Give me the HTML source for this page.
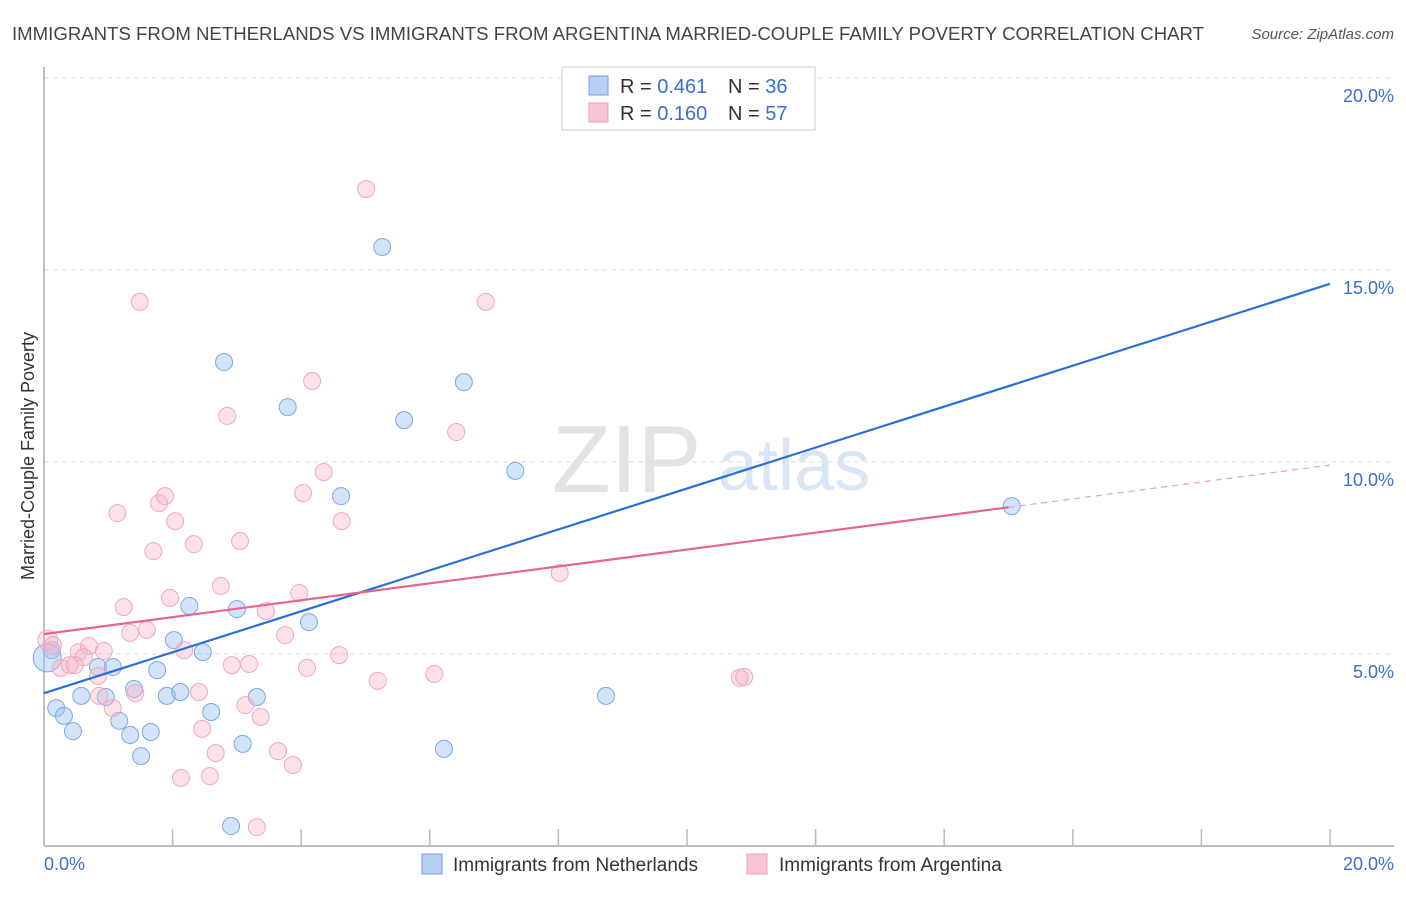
<!DOCTYPE html>
<html><head><meta charset="utf-8"><style>
body{margin:0;background:#fff;font-family:"Liberation Sans",sans-serif}
svg text{font-family:"Liberation Sans",sans-serif}
</style></head><body>
<svg id="chart" width="1406" height="892" xmlns="http://www.w3.org/2000/svg">
<text x="12" y="40" font-size="18.6" fill="#444" textLength="1192">IMMIGRANTS FROM NETHERLANDS VS IMMIGRANTS FROM ARGENTINA MARRIED-COUPLE FAMILY POVERTY CORRELATION CHART</text>
<text x="1394" y="39" font-size="15" fill="#555" font-style="italic" text-anchor="end">Source: ZipAtlas.com</text>
<text x="552" y="492" font-size="96" fill="#ddd" font-family="Liberation Serif" opacity="0.8">ZIP</text>
<text x="718" y="490" font-size="72" fill="#cfe0f3" opacity="0.8">atlas</text>
<g id="grid"></g>
<g id="axes"></g>
<g id="marks"></g>
<text transform="translate(34,456) rotate(-90)" font-size="18" fill="#333" text-anchor="middle">Married-Couple Family Poverty</text>
<text x="44" y="870" font-size="18" fill="#3a6fd0">0.0%</text>
<text x="1394" y="870" font-size="18" fill="#3a6fd0" text-anchor="end">20.0%</text>
<g>
<rect x="562" y="67" width="253" height="63" fill="#fff" stroke="#ccc"/>
<rect x="589" y="76" width="19" height="19" fill="#b7d0f3" stroke="#6fa0e0"/>
<rect x="589" y="103" width="19" height="19" fill="#f8c4d3" stroke="#f0a0b8"/>
<text x="620" y="93" font-size="20" fill="#333">R = <tspan fill="#3a6fd0">0.461</tspan></text>
<text x="728" y="93" font-size="20" fill="#333">N = <tspan fill="#3a6fd0">36</tspan></text>
<text x="620" y="120" font-size="20" fill="#333">R = <tspan fill="#3a6fd0">0.160</tspan></text>
<text x="728" y="120" font-size="20" fill="#333">N = <tspan fill="#3a6fd0">57</tspan></text>
</g>
<g>
<rect x="422" y="854" width="20" height="20" fill="#b7d0f3" stroke="#6fa0e0"/>
<text x="453" y="871" font-size="19" fill="#333">Immigrants from Netherlands</text>
<rect x="747" y="854" width="20" height="20" fill="#f8c4d3" stroke="#f0a0b8"/>
<text x="779" y="871" font-size="19" fill="#333">Immigrants from Argentina</text>
</g>
</svg>
<script>
const yTicks=[5,10,15,20];
const yTickLabels=["5.0%","10.0%","15.0%","20.0%"];
const xTicks=[0,2,4,6,8,10,12,14,16,18,20];
const blueX=[0.12,0.19,0.31,0.45,0.58,0.84,0.96,1.07,1.17,1.34,1.40,1.51,1.66,1.76,1.91,2.02,2.12,2.26,2.47,2.60,2.80,2.91,3.00,3.09,3.31,3.79,4.12,4.62,5.26,5.60,6.22,6.53,7.33,8.74,15.05,0.05];
const blueY=[5.10,3.59,3.39,2.99,3.91,4.66,3.88,4.66,3.26,2.89,4.09,2.34,2.97,4.58,3.91,5.36,4.01,6.25,5.05,3.49,12.60,0.52,6.17,2.66,3.88,11.43,5.83,9.11,15.60,11.09,2.53,12.08,9.77,3.91,8.85,4.9];
const pinkX=[0.06,0.14,0.26,0.40,0.54,0.70,0.84,0.93,0.86,1.07,1.14,1.24,1.34,1.42,1.49,1.60,1.70,1.79,1.88,1.96,2.04,2.18,2.33,2.41,2.46,2.58,2.67,2.75,2.85,2.92,3.05,3.13,3.19,3.37,3.45,3.64,3.75,3.87,3.97,4.03,4.09,4.17,4.35,4.59,4.63,5.01,5.19,6.07,6.41,6.87,8.02,10.82,10.89,2.13,3.31,0.62,0.48];
const pinkY=[5.36,5.23,4.64,4.71,5.05,5.21,4.43,5.08,3.91,3.59,8.67,6.22,5.55,3.98,14.17,5.63,7.68,8.93,9.11,6.46,8.46,5.10,7.86,4.01,3.05,1.82,2.42,6.77,11.20,4.71,7.94,3.67,4.74,3.36,6.12,2.47,5.49,2.11,6.59,9.19,4.64,12.11,9.74,4.97,8.46,17.11,4.30,4.48,10.78,14.17,7.11,4.38,4.40,1.77,0.49,4.92,4.71];
const blueTrend=[3.98,14.64];
const pinkTrend=[5.52,9.92];
const pinkSolidEnd=15.0;
const NS="http://www.w3.org/2000/svg";
const X=v=>44+v*64.3, Y=v=>846-v*38.4;
function mk(p,t,a){const e=document.createElementNS(NS,t);for(const k in a)e.setAttribute(k,a[k]);p.appendChild(e);return e;}
const grid=document.getElementById('grid'),axes=document.getElementById('axes'),marks=document.getElementById('marks');
yTicks.forEach((t,i)=>{
 const l=mk(grid,'line',{x1:44,x2:1394,y1:Y(t),y2:Y(t),stroke:'#ddd','stroke-dasharray':'5,4'});
 
 
 const tx=mk(grid,'text',{x:1394,y:Y(t)+24,'font-size':18,fill:'#3a6fd0','text-anchor':'end'});
 tx.textContent=yTickLabels[i];
 
 
});
const ya=mk(axes,'line',{x1:44,x2:44,y1:67,y2:846,stroke:'#aaa','stroke-width':1.5});


const xa=mk(axes,'line',{x1:44,x2:1394,y1:846,y2:846,stroke:'#aaa','stroke-width':1.5});


xTicks.forEach(t=>{
 const l=mk(axes,'line',{x1:X(t),x2:X(t),y1:829,y2:846,stroke:'#bbb','stroke-width':1.5});
 
 
});
blueX.forEach((x,i)=>{
 const c=mk(marks,'circle',{cx:X(x),cy:Y(blueY[i]),r:i==35?14:8.5,fill:'rgba(160,195,240,0.45)',stroke:'#7aa8e4','stroke-width':1});
 
 
});
pinkX.forEach((x,i)=>{
 const c=mk(marks,'circle',{cx:X(x),cy:Y(pinkY[i]),r:i==0?10:8.5,fill:'rgba(248,180,200,0.4)',stroke:'#f0a8bd','stroke-width':1});
 
 
});
const bl=mk(marks,'line',{x1:X(0),y1:Y(blueTrend[0]),x2:X(20),y2:Y(blueTrend[1]),stroke:'#2a6fd8','stroke-width':2.2});


const pAt=x=>pinkTrend[0]+(pinkTrend[1]-pinkTrend[0])*x/20;
const pl=mk(marks,'line',{x1:X(0),y1:Y(pinkTrend[0]),x2:X(pinkSolidEnd),y2:Y(pAt(pinkSolidEnd)),stroke:'#e8648e','stroke-width':2.2});


const pd=mk(marks,'line',{x1:X(pinkSolidEnd),y1:Y(pAt(pinkSolidEnd)),x2:X(20),y2:Y(pinkTrend[1]),stroke:'#e8a0b8','stroke-width':1.2,'stroke-dasharray':'6,5'});


</script>
</body></html>
